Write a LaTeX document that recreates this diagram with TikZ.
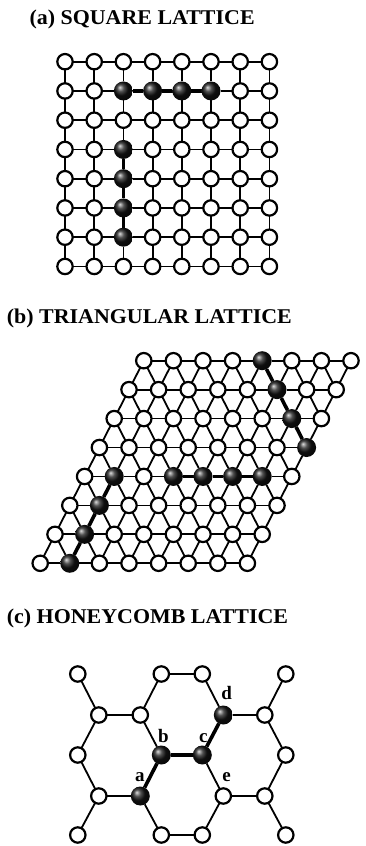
\documentclass[tikz,border=0pt]{standalone}
\usepackage{fontspec}
\setmainfont{Liberation Serif}
\newfontfamily\ttlfont{Liberation Serif}[FakeStretch=1.045]
\usetikzlibrary{backgrounds,shadings}
\begin{document}
\begin{tikzpicture}[x=1pt,y=-1pt,
  site/.style={circle,draw=black,line width=2.2pt,fill=white,minimum size=15.4pt,inner sep=0pt,outer sep=0pt},
  ball/.style={circle,shading=ball,ball color=black!92,minimum size=19pt,inner sep=0pt,outer sep=0pt},
  bond/.style={line width=1.8pt,black},
  hbond/.style={line width=3.6pt,black},
  title/.style={anchor=base west,inner sep=0pt,font=\ttlfont\fontsize{21}{24}\selectfont\bfseries},
  lbl/.style={anchor=base,inner sep=0pt,font=\fontsize{19}{22}\selectfont\bfseries}]
\useasboundingbox (0,0) rectangle (365,846);

% ---------- titles ----------
\node[title] (ta) at (29.3,24.3) {(a) SQUARE LATTICE};
\node[title] (tb) at (6.7,323.3) {(b) TRIANGULAR LATTICE};
\node[title] (tc) at (6.7,623.3) {(c) HONEYCOMB LATTICE};

% ---------- (a) square lattice ----------
\foreach \i in {0,...,7}{
  \foreach \j in {0,...,7}{
    \pgfmathtruncatemacro\f{((\j==1)&&(\i>=2)&&(\i<=5))||((\i==2)&&(\j>=3)&&(\j<=6))}
    \ifnum\f=1 \def\st{ball}\else\def\st{site}\fi
    \node[\st] (s\i-\j) at ({65+29.2*\i},{61.7+29.25*\j}) {};
  }}
\begin{scope}[on background layer]
  \foreach \i [evaluate=\i as \ii using int(\i+1)] in {0,...,6}{
    \foreach \j in {0,...,7}{
      \draw[bond] (s\i-\j) -- (s\ii-\j);
      \draw[bond] (s\j-\i) -- (s\j-\ii);
    }}
  \draw[hbond] (s2-1) -- (s3-1) -- (s4-1) -- (s5-1);
  \draw[hbond] (s2-3) -- (s2-4) -- (s2-5) -- (s2-6);
\end{scope}

% ---------- (b) triangular lattice ----------
\foreach \r in {0,...,7}{
  \foreach \i in {0,...,7}{
    \pgfmathtruncatemacro\f{((\r<=3)&&(\i==\r+4))||((\r==4)&&(\i>=3)&&(\i<=6))||((\r>=4)&&(\i==1))}
    \ifnum\f=1 \def\st{ball}\else\def\st{site}\fi
    \node[\st] (t\r-\i) at ({143.8-14.8*\r+29.6*\i},{360.7+28.94*\r}) {};
  }}
\begin{scope}[on background layer]
  \foreach \r in {0,...,7}{
    \foreach \i [evaluate=\i as \ii using int(\i+1)] in {0,...,6}{
      \draw[bond] (t\r-\i) -- (t\r-\ii);
    }}
  \foreach \r [evaluate=\r as \rr using int(\r+1)] in {0,...,6}{
    \foreach \i in {0,...,7}{
      \draw[bond] (t\r-\i) -- (t\rr-\i);
    }
    \foreach \i [evaluate=\i as \ii using int(\i+1)] in {0,...,6}{
      \draw[bond] (t\r-\i) -- (t\rr-\ii);
    }}
  \draw[hbond] (t0-4) -- (t1-5) -- (t2-6) -- (t3-7);
  \draw[hbond] (t4-3) -- (t4-4) -- (t4-5) -- (t4-6);
  \draw[hbond] (t4-1) -- (t5-1) -- (t6-1) -- (t7-1);
\end{scope}

% ---------- (c) honeycomb lattice ----------
\def\cx{181.8}
\foreach \n/\dx/\y/\st in {
  A0/-104/674/site, D0/-20.5/674/site, E0/20.5/674/site, H0/104/674/site,
  B1/-83/715/site, C1/-41.5/715/site, F1/41.5/715/ball, G1/83/715/site,
  A2/-104/755/site, D2/-20.5/755/ball, E2/20.5/755/ball, H2/104/755/site,
  B3/-83/796/site, C3/-41.5/796/ball, F3/41.5/796/site, G3/83/796/site,
  A4/-104/835/site, D4/-20.5/835/site, E4/20.5/835/site, H4/104/835/site}{
  \node[\st] (h\n) at ({\cx+\dx},\y) {};
}
\begin{scope}[on background layer]
  \foreach \p/\q in {A0/B1, D0/E0, D0/C1, E0/F1, H0/G1, B1/C1, F1/G1, B1/A2,
    C1/D2, G1/H2, A2/B3, E2/F3, H2/G3, B3/C3, F3/G3, B3/A4, C3/D4, F3/E4,
    G3/H4, D4/E4}{
    \draw[bond] (h\p) -- (h\q);
  }
  \draw[hbond] (hC3) -- (hD2) -- (hE2) -- (hF1);
\end{scope}
\node[lbl] (la) at (139.8,781.7) {a};
\node[lbl] (lb) at (163.3,742.5) {b};
\node[lbl] (lc) at (203.3,742.5) {c};
\node[lbl] (ld) at (226.7,699) {d};
\node[lbl] (le) at (226.7,781.7) {e};
\end{tikzpicture}
\end{document}
